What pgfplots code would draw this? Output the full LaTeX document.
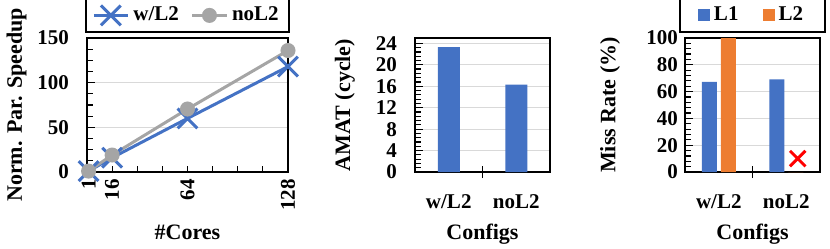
\documentclass[border=0pt]{standalone}
\usepackage{pgfplots}
\pgfplotsset{compat=1.18}
\usepackage{fontspec}
\setmainfont{Liberation Serif}
\definecolor{cblue}{HTML}{4472C4}
\definecolor{corange}{HTML}{ED7D31}
\definecolor{cgray}{HTML}{A5A5A5}
\begin{document}
\begin{tikzpicture}[font=\bfseries\fontsize{10.5}{12}\selectfont]
\useasboundingbox (0,0) rectangle (415pt,124pt);
\pgfplotsset{every axis/.append style={
  scale only axis, anchor=south west,
  /pgf/number format/assume math mode=true,
  axis line style={black, line width=0.8pt},
  ymajorgrids, major grid style={black!15, line width=0.6pt},
  tick style={black, line width=0.6pt},
  tick align=inside, tick pos=left,
  major tick length=4pt, minor tick length=3pt,
  label style={font=\bfseries\fontsize{11}{12}\selectfont},
  legend style={draw=black, line width=0.8pt, font=\bfseries\fontsize{10.5}{12}\selectfont,
     legend columns=2, inner ysep=2pt},
}}
% Chart 1
\begin{axis}[at={(43.5pt,38pt)}, width=100.5pt, height=67pt,
  xmin=0, xmax=128, ymin=0, ymax=150,
  xtick={1,16,64,128}, minor xtick={0,16,...,128},
  major x tick style={draw=none},
  ytick={0,50,100,150}, minor y tick num=3,
  xticklabel style={rotate=90, anchor=east},
  yticklabel style={xshift=-5.5pt},
  ylabel={Norm. Par. Speedup}, xlabel={\#Cores},
  ylabel style={at={(axis description cs:-0.35,0.5)}, anchor=center},
  xlabel style={yshift=-0.5pt},
  legend style={at={(0.5,1.04)}, anchor=south,
     /tikz/every even column/.append style={column sep=4pt}},
  clip=false]
\addplot[cblue, line width=1.5pt, mark=x, mark size=7pt] coordinates {(1,1) (16,16) (64,60) (128,118)};
\addlegendentry{w/L2}
\addplot[cgray, line width=1.5pt, mark=*, mark size=3pt] coordinates {(1,1) (16,19) (64,70.5) (128,136)};
\addlegendentry{noL2}
\end{axis}
% Chart 2
\begin{axis}[at={(207.5pt,38pt)}, width=67.5pt, height=67pt,
  ybar, bar width=11pt,
  xmin=-0.5, xmax=1.5, ymin=0, ymax=25,
  xtick={0,1}, xticklabels={w/L2, noL2}, major x tick style={draw=none},
  extra x ticks={0.5}, extra x tick labels={},
  extra x tick style={major tick length=6pt, tick align=center, major x tick style={draw=black}},
  xticklabel style={yshift=-4pt},
  ytick={0,4,...,24}, minor y tick num=4,
  yticklabel style={xshift=-5.5pt},
  ylabel={AMAT (cycle)}, xlabel={Configs},
  ylabel style={at={(axis description cs:-0.52,0.5)}, anchor=center},
  xlabel style={yshift=6.5pt}]
\addplot[fill=cblue, draw=none] coordinates {(0,23.3) (1,16.3)};
\end{axis}
% Chart 3
\begin{axis}[at={(342.5pt,38pt)}, width=67.5pt, height=67pt,
  ybar=2pt, bar width=7.5pt,
  xmin=-0.5, xmax=1.5, ymin=0, ymax=100,
  xtick={0,1}, xticklabels={w/L2, noL2}, major x tick style={draw=none},
  extra x ticks={0.5}, extra x tick labels={},
  extra x tick style={major tick length=6pt, tick align=center, major x tick style={draw=black}},
  xticklabel style={yshift=-4pt},
  ytick={0,20,...,100}, minor y tick num=4,
  ylabel={Miss Rate (\%)}, xlabel={Configs},
  ylabel style={at={(axis description cs:-0.555,0.5)}, anchor=center},
  xlabel style={yshift=6.5pt},
  legend style={at={(0.5,1.04)}, anchor=south, inner xsep=9pt,
     /tikz/every even column/.append style={column sep=10pt}},
  legend image code/.code={\fill[#1] (0pt,-3pt) rectangle (6pt,3pt);},
  clip=false]
\addplot[fill=cblue, draw=none] coordinates {(0,67.2) (1,69.2)};
\addlegendentry{L1}
\addplot[fill=corange, draw=none] coordinates {(0,100) (1,0)};
\addlegendentry{L2}
\addplot[sharp plot, only marks, red, mark=x, mark size=5.5pt, line width=1.5pt, forget plot] coordinates {(1.17,10)};
\end{axis}
\end{tikzpicture}
\end{document}
